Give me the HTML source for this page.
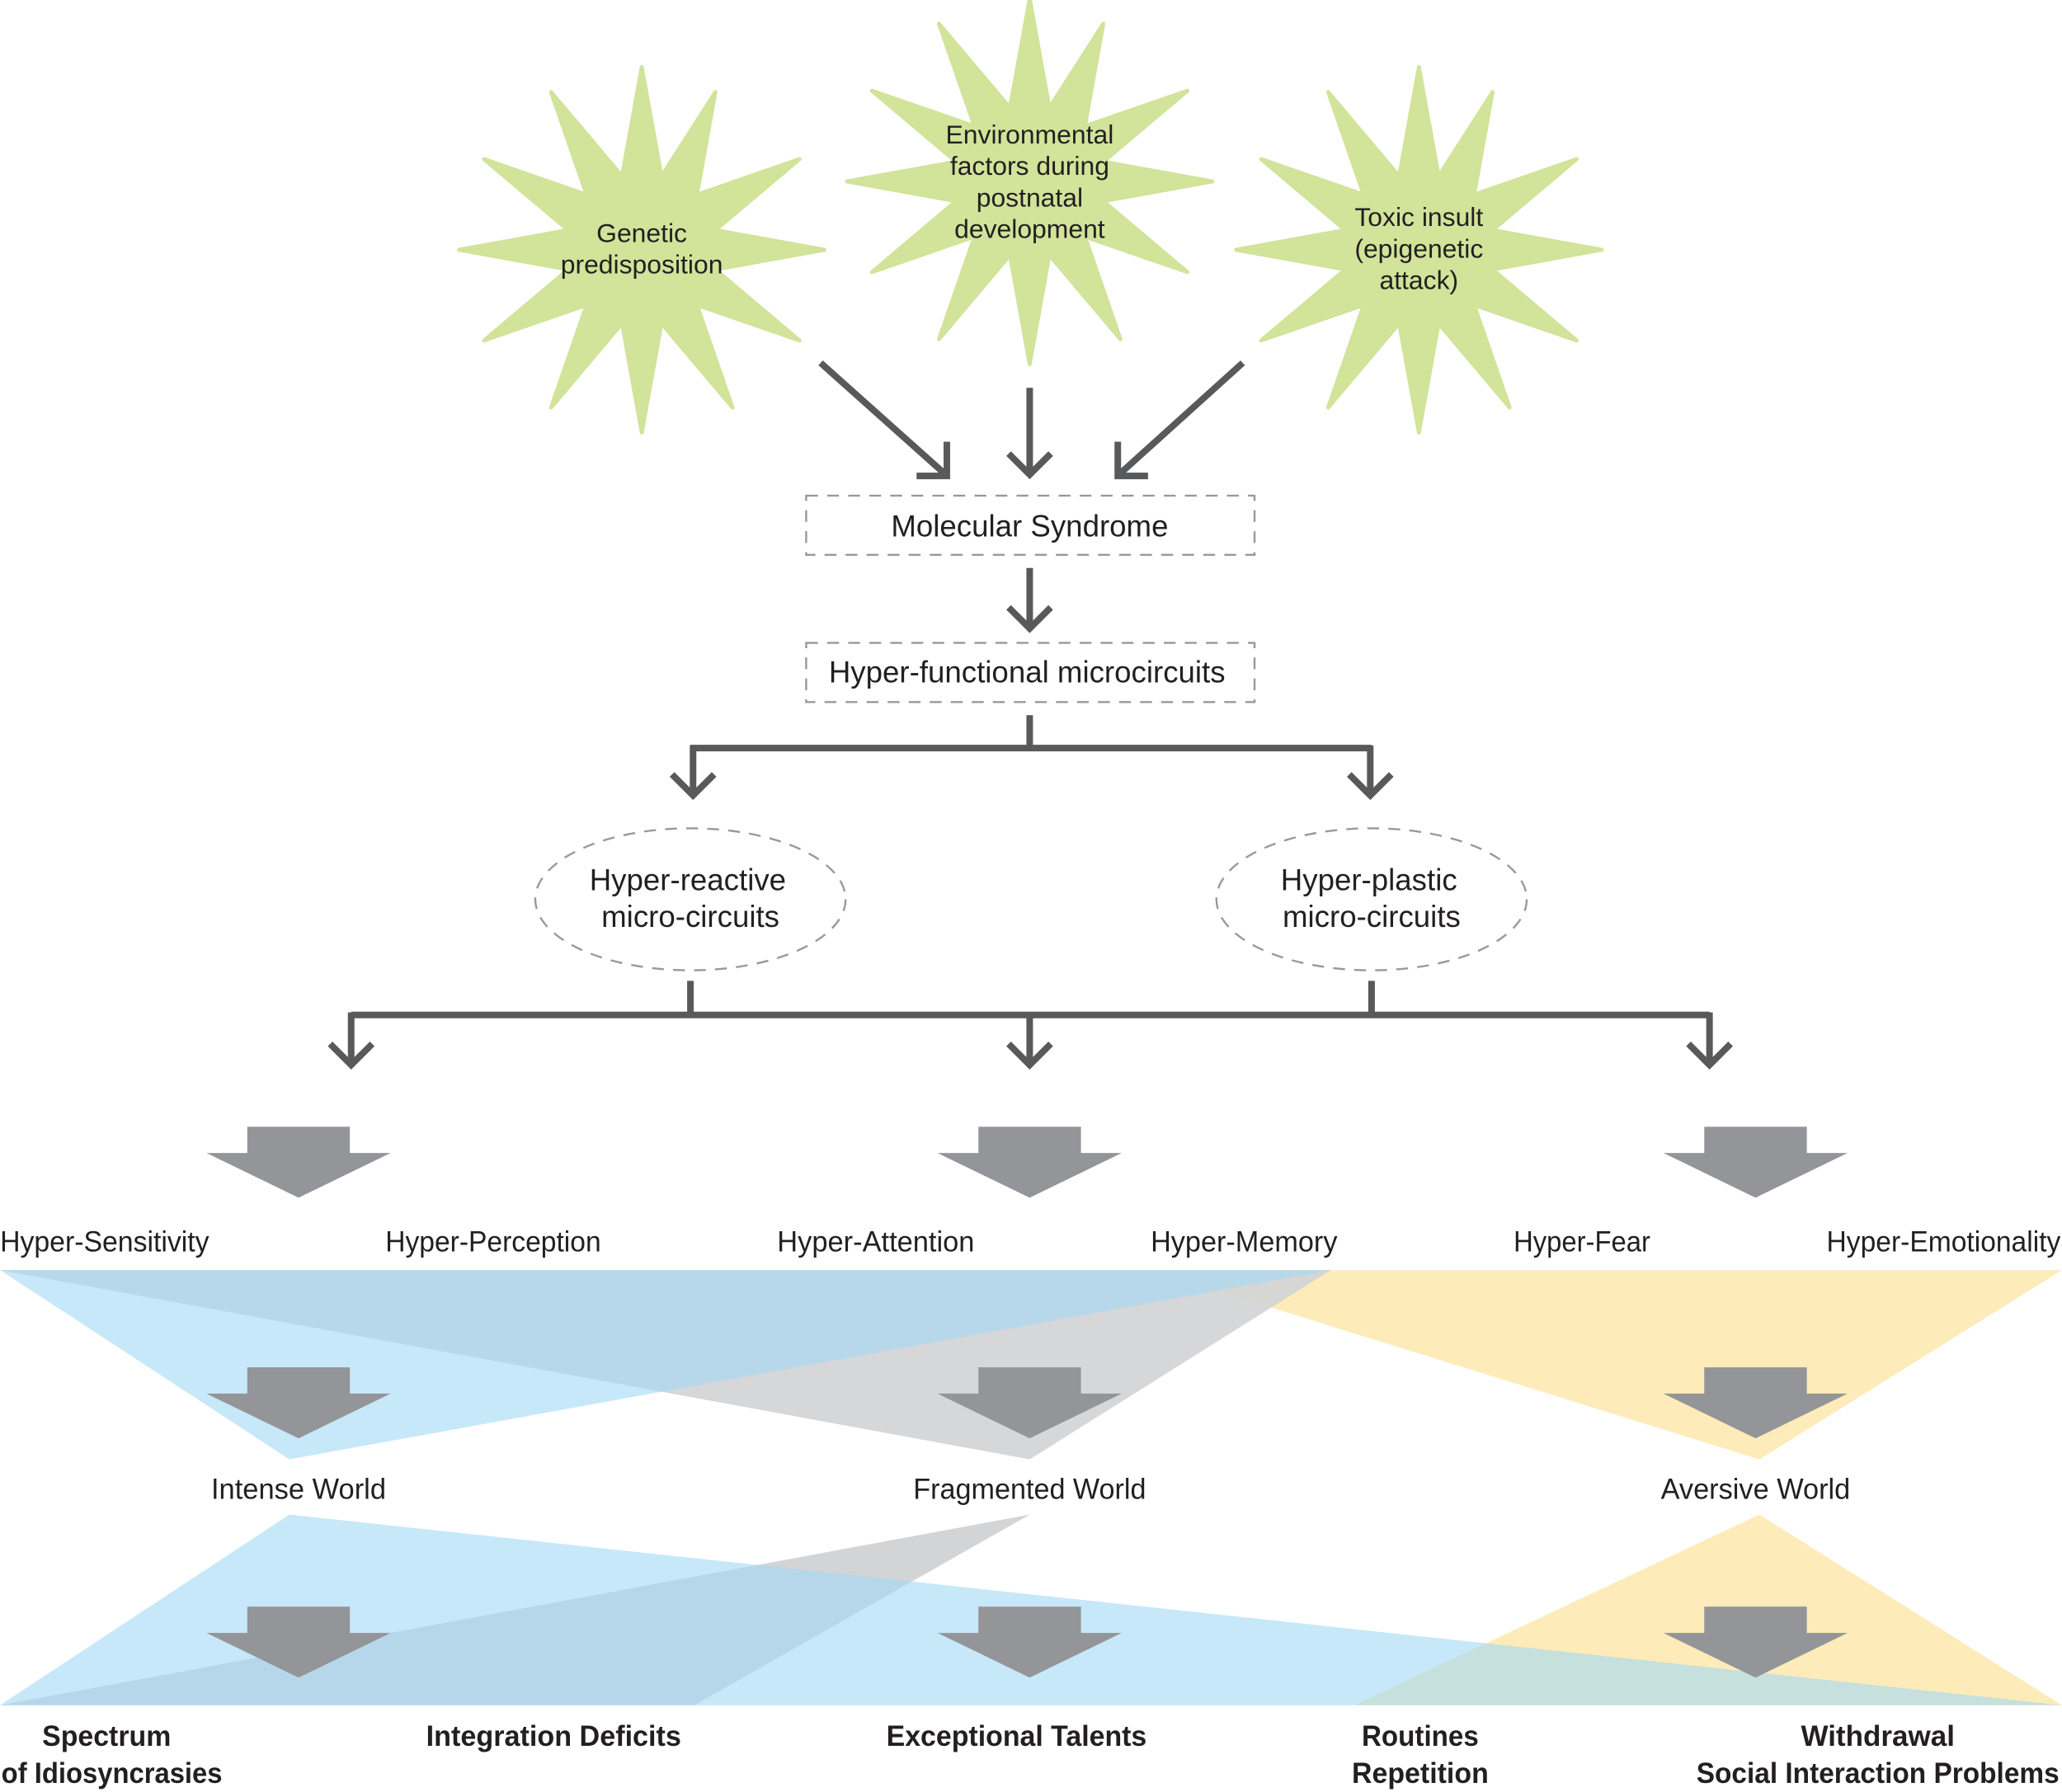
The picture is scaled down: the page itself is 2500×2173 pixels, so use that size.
<!DOCTYPE html>
<html><head><meta charset="utf-8"><style>
html,body{margin:0;padding:0;background:#fff}
svg{display:block}
text{font-family:"Liberation Sans Narrow","Liberation Sans",sans-serif;fill:#231f20}
.b{font-weight:bold}
</style></head><body>
<svg width="2500" height="2173" viewBox="0 0 1568 1363" xmlns="http://www.w3.org/2000/svg">
<defs>
<polygon id="star" points="0,-139 15,-56 56,-120 42,-42 120,-69 56,-15 139,0 56,15 120,69 42,42 69,120 15,56 0,139 -15,56 -69,120 -42,42 -120,69 -56,15 -139,0 -56,-15 -120,-69 -42,-42 -69,-120 -15,-56" fill="#d2e39a" stroke="#d2e39a" stroke-width="3" stroke-linejoin="round"/>
<g id="ga"><rect x="-39" y="0" width="78" height="21" fill="#939598"/><polygon points="-70,20 70,20 0,54" fill="#939598"/></g>
</defs>
<use href="#star" x="488" y="190"/>
<use href="#star" x="783" y="138"/>
<use href="#star" x="1079" y="190"/>
<g font-size="20" text-anchor="middle">
<text x="488" y="184">Genetic</text><text x="488" y="208">predisposition</text>
<text x="783" y="109">Environmental</text><text x="783" y="133">factors during</text><text x="783" y="157">postnatal</text><text x="783" y="181">development</text>
<text x="1079" y="172">Toxic insult</text><text x="1079" y="196">(epigenetic</text><text x="1079" y="220">attack)</text>
</g>
<g stroke="#58595b" stroke-width="5" fill="none">
<path d="M624,276 L718,360 M720,336 V362 H697"/>
<path d="M783,295 V360 M767,345 L783,361 L799,345"/>
<path d="M945,276 L852,360 M850,336 V362 H873"/>
<path d="M783,432 V478 M767,462 L783,478 L799,462"/>
<path d="M783,544 V569 M525,569 H1043 M527,567 V604 M511,589 L527,605 L543,589 M1042,567 V604 M1026,589 L1042,605 L1058,589"/>
<path d="M525,746 V772 M1043,746 V772 M267,772 H1300 M267,770 V810 M251,794 L267,810 L283,794 M783,770 V810 M767,794 L783,810 L799,794 M1300,770 V810 M1284,794 L1300,810 L1316,794"/>
</g>
<g fill="none" stroke="#999" stroke-width="1.5" stroke-dasharray="9,7">
<rect x="613" y="377" width="341" height="45"/>
<rect x="613" y="489" width="341" height="45"/>
<ellipse cx="525" cy="684" rx="118" ry="54"/>
<ellipse cx="1043" cy="684" rx="118" ry="54"/>
</g>
<g font-size="23" text-anchor="middle">
<text x="783" y="408">Molecular Syndrome</text>
<text x="781" y="519">Hyper-functional microcircuits</text>
<text x="523" y="677">Hyper-reactive</text><text x="525" y="705">micro-circuits</text>
<text x="1041" y="677">Hyper-plastic</text><text x="1043" y="705">micro-circuits</text>
</g>
<use href="#ga" x="227" y="857"/><use href="#ga" x="783" y="857"/><use href="#ga" x="1335" y="857"/>
<g font-size="22">
<text x="0" y="952" textLength="159" lengthAdjust="spacingAndGlyphs">Hyper-Sensitivity</text>
<text x="293" y="952" textLength="164" lengthAdjust="spacingAndGlyphs">Hyper-Perception</text>
<text x="591" y="952" textLength="150" lengthAdjust="spacingAndGlyphs">Hyper-Attention</text>
<text x="875" y="952" textLength="142" lengthAdjust="spacingAndGlyphs">Hyper-Memory</text>
<text x="1151" y="952" textLength="104" lengthAdjust="spacingAndGlyphs">Hyper-Fear</text>
<text x="1389" y="952" textLength="178" lengthAdjust="spacingAndGlyphs">Hyper-Emotionality</text>
</g>
<polygon points="875,966 1568,966 1338,1110" fill="#fdebb9"/>
<polygon points="0,966 1012,966 783,1110" fill="#d3d4d6" fill-opacity="0.92"/>
<polygon points="0,966 1012,966 220,1110" fill="#a2d9f5" fill-opacity="0.6"/>
<polygon points="1338,1152 1030,1297 1568,1297" fill="#fdebb9"/>
<polygon points="783,1152 0,1297 528,1297" fill="#d3d4d6"/>
<polygon points="220,1152 0,1297 1568,1297" fill="#a2d9f5" fill-opacity="0.6"/>
<use href="#ga" x="227" y="1040"/><use href="#ga" x="783" y="1040"/><use href="#ga" x="1335" y="1040"/>
<use href="#ga" x="227" y="1222"/><use href="#ga" x="783" y="1222"/><use href="#ga" x="1335" y="1222"/>
<g font-size="22" text-anchor="middle">
<text x="227" y="1140" textLength="133" lengthAdjust="spacingAndGlyphs">Intense World</text>
<text x="783" y="1140" textLength="177" lengthAdjust="spacingAndGlyphs">Fragmented World</text>
<text x="1335" y="1140" textLength="144" lengthAdjust="spacingAndGlyphs">Aversive World</text>
</g>
<g font-size="22" class="b" text-anchor="middle">
<text class="b" x="81" y="1328" textLength="98" lengthAdjust="spacingAndGlyphs">Spectrum</text>
<text class="b" x="85" y="1356" textLength="168" lengthAdjust="spacingAndGlyphs">of Idiosyncrasies</text>
<text class="b" x="421" y="1328" textLength="194" lengthAdjust="spacingAndGlyphs">Integration Deficits</text>
<text class="b" x="773" y="1328" textLength="198" lengthAdjust="spacingAndGlyphs">Exceptional Talents</text>
<text class="b" x="1080" y="1328" textLength="89" lengthAdjust="spacingAndGlyphs">Routines</text>
<text class="b" x="1080" y="1356" textLength="104" lengthAdjust="spacingAndGlyphs">Repetition</text>
<text class="b" x="1428" y="1328" textLength="117" lengthAdjust="spacingAndGlyphs">Withdrawal</text>
<text class="b" x="1428" y="1356" textLength="276" lengthAdjust="spacingAndGlyphs">Social Interaction Problems</text>
</g>
</svg>
</body></html>
